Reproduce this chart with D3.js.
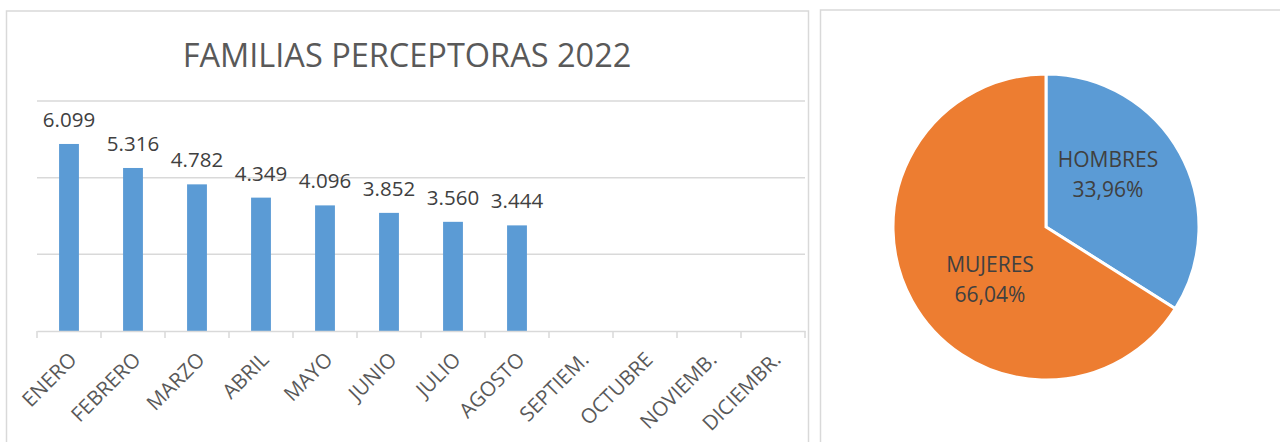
<!DOCTYPE html>
<html>
<head>
<meta charset="utf-8">
<script src="https://cdn.jsdelivr.net/npm/d3@7"></script>
<style>
  body { margin: 0; background: #fff; }
  svg { display: block; font-family: "Open Sans", sans-serif; }
</style>
</head>
<body>
<svg id="chart" width="1280" height="442"></svg>
<script>
// data
const months = ["ENERO", "FEBRERO", "MARZO", "ABRIL", "MAYO", "JUNIO", "JULIO",
  "AGOSTO", "SEPTIEM.", "OCTUBRE", "NOVIEMB.", "DICIEMBR."];
const families = [6099, 5316, 4782, 4349, 4096, 3852, 3560, 3444];
const yTicks = [0, 2500, 5000, 7500];
const sexes = ["HOMBRES", "MUJERES"];
const sexShares = [33.96, 66.04];

const blue = "#5B9BD5", orange = "#ED7D31";
const svg = d3.select("#chart");
const fmt = v => d3.format(",")(v).replace(/,/g, ".");

// panel frames
svg.append("rect").attr("x", 6.5).attr("y", 11).attr("width", 802).attr("height", 460)
  .attr("fill", "none").attr("stroke", "#d9d9d9").attr("stroke-width", 1.5);
svg.append("path").attr("d", "M820.5,460 V10 H1282")
  .attr("fill", "none").attr("stroke", "#d9d9d9").attr("stroke-width", 1.5);

// ---- bar chart
const plot = {left: 37, right: 805, top: 101, bottom: 331};

svg.append("text")
  .attr("x", 407).attr("y", 67)
  .attr("text-anchor", "middle")
  .attr("fill", "#595959")
  .style("font-size", "32.5px")
  .text("FAMILIAS PERCEPTORAS 2022");

const x = d3.scaleBand().domain(months).range([plot.left, plot.right]);
const y = d3.scaleLinear().domain([0, 7500]).range([plot.bottom, plot.top]);

svg.append("g").selectAll("line").data(yTicks.slice(1)).join("line")
  .attr("x1", plot.left).attr("x2", plot.right)
  .attr("y1", d => y(d)).attr("y2", d => y(d))
  .attr("stroke", "#d9d9d9").attr("stroke-width", 1.5);

const barW = x.bandwidth() * 0.31;
const barData = families.map((v, i) => ({m: months[i], v: v}));

svg.append("g").selectAll("rect").data(barData).join("rect")
  .attr("x", d => x(d.m) + x.bandwidth() / 2 - barW / 2)
  .attr("y", d => y(d.v))
  .attr("width", barW)
  .attr("height", d => y(0) - y(d.v))
  .attr("fill", blue);

svg.append("g").selectAll("text").data(barData).join("text")
  .attr("x", d => x(d.m) + x.bandwidth() / 2)
  .attr("y", d => y(d.v) - 17)
  .attr("text-anchor", "middle")
  .attr("fill", "#404040")
  .style("font-size", "20.5px")
  .text(d => fmt(d.v));

// x axis
const xAxis = svg.append("g").attr("transform", `translate(0,${plot.bottom})`)
  .call(d3.axisBottom(x).tickSize(0).tickFormat(""));
xAxis.select(".domain").attr("stroke", "#d9d9d9").attr("stroke-width", 1.5);

svg.append("g").selectAll("line").data(months.concat(["end"])).join("line")
  .attr("x1", (d, i) => plot.left + i * x.step())
  .attr("x2", (d, i) => plot.left + i * x.step())
  .attr("y1", plot.bottom).attr("y2", plot.bottom + 7)
  .attr("stroke", "#d9d9d9").attr("stroke-width", 1.5);

svg.append("g").selectAll("text").data(months).join("text")
  .attr("transform", d => `translate(${x(d) + x.bandwidth() / 2 + 9},${plot.bottom + 30}) rotate(-45)`)
  .attr("text-anchor", "end")
  .attr("fill", "#595959")
  .style("font-size", "20.5px")
  .text(d => d);

// ---- pie chart
const cx = 1046, cy = 227, r = 153;
const pieData = d3.pie().sort(null)(sexShares);
const arc = d3.arc().innerRadius(0).outerRadius(r);
const pieColors = [blue, orange];

const pg = svg.append("g").attr("transform", `translate(${cx},${cy})`);
pg.selectAll("path").data(pieData).join("path")
  .attr("d", arc)
  .attr("fill", (d, i) => pieColors[i])
  .attr("stroke", "#fff").attr("stroke-width", 3);

const labelPos = [[62, -60], [-56, 45]];
pieData.forEach((d, i) => {
  const t = pg.append("text")
    .attr("text-anchor", "middle")
    .attr("fill", "#404040")
    .style("font-size", "21px");
  t.append("tspan").attr("x", labelPos[i][0]).attr("y", labelPos[i][1]).text(sexes[i]);
  t.append("tspan").attr("x", labelPos[i][0]).attr("y", labelPos[i][1] + 30)
    .text(d3.format(".2f")(sexShares[i]).replace(".", ",") + "%");
});
</script>
</body>
</html>
